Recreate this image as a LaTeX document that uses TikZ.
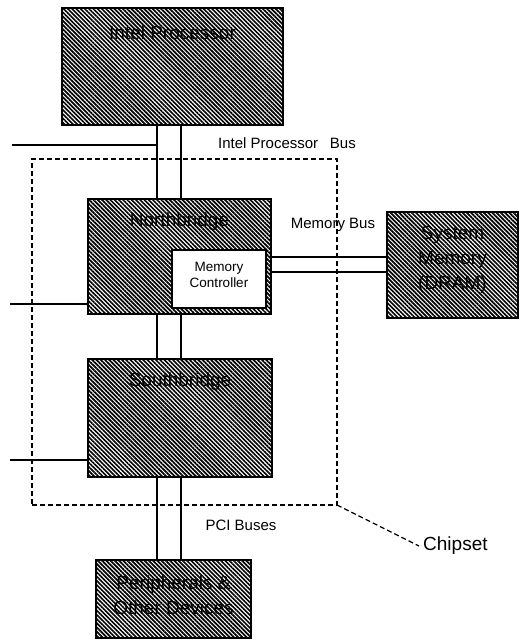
\documentclass[tikz,border=0pt]{standalone}
\usepackage{fontspec}
\setmainfont{Liberation Sans}
\usetikzlibrary{patterns.meta}
\tikzset{
  hatchbox/.style={draw, line width=2pt, inner sep=0pt, outer sep=0pt,
    pattern={Lines[angle=-45,distance=3pt,line width=1.7pt]}, pattern color=black},
  whitebox/.style={draw, line width=1.6pt, fill=white, inner sep=0pt, outer sep=0pt},
  boxtext/.style={font=\fontsize{19}{25}\selectfont, text=black, align=center, inner sep=0pt},
  smalltext/.style={font=\fontsize{13.5}{16}\selectfont, align=center, inner sep=0pt},
  lbl/.style={font=\fontsize{15}{18}\selectfont, inner sep=0pt},
  bus/.style={line width=1.5pt},
  chipline/.style={dashed, line width=1.3pt, dash pattern=on 5pt off 3pt},
}
\begin{document}
\begin{tikzpicture}[x=1pt,y=-1pt]
\useasboundingbox (0,0) rectangle (520,641);
% chipset dashed region
\node[chipline, draw, minimum width=305pt, minimum height=346pt, inner sep=0pt, outer sep=0pt] (cs) at (184.5,332) {};
% boxes
\node[hatchbox, minimum width=221pt, minimum height=117pt] (proc) at (172.5,66.5) {};
\node[hatchbox, minimum width=183pt, minimum height=115pt] (nb) at (179.5,256.5) {};
\node[whitebox, minimum width=94pt, minimum height=58pt] (mc) at (219,279) {};
\node[hatchbox, minimum width=184pt, minimum height=118pt] (sb) at (180,418) {};
\node[hatchbox, minimum width=131pt, minimum height=106pt] (sm) at (452.5,265) {};
\node[hatchbox, minimum width=155pt, minimum height=78pt] (per) at (173.5,599) {};
% box texts
\node[boxtext] (proct) at ([yshift=-25pt]proc.north) {Intel Processor};
\node[boxtext] (nbt) at ([yshift=-23pt]nb.north) {Northbridge};
\node[smalltext] (mct) at ([yshift=4pt]mc.center) {Memory\\Controller};
\node[boxtext] (sbt) at ([yshift=-23pt]sb.north) {Southbridge};
\node[boxtext] (smt) at ([yshift=5pt]sm.center) {System\\Memory\\(DRAM)};
\node[boxtext] (pert) at ([yshift=4pt]per.center) {Peripherals \&\\Other Devices};
% bus line x positions
\coordinate (b1) at (157,0);
\coordinate (b2) at (181,0);
\coordinate (m1) at (0,257);
\coordinate (m2) at (0,272);
% processor bus
\draw[bus] (proc.south -| b1) -- (nb.north -| b1);
\draw[bus] (proc.south -| b2) -- (nb.north -| b2);
% NB - SB
\draw[bus] (nb.south -| b1) -- (sb.north -| b1);
\draw[bus] (nb.south -| b2) -- (sb.north -| b2);
% PCI
\draw[bus] (sb.south -| b1) -- (per.north -| b1);
\draw[bus] (sb.south -| b2) -- (per.north -| b2);
% memory bus
\draw[bus] (nb.east |- m1) -- (sm.west |- m1);
\draw[bus] (nb.east |- m2) -- (sm.west |- m2);
% left stubs
\coordinate (l1) at (12,145);
\coordinate (l2) at (10,304);
\coordinate (l3) at (10,460);
\draw[bus] (l1) -- (l1 -| b1);
\draw[bus] (l2) -- (l2 -| nb.west);
\draw[bus] (l3) -- (l3 -| sb.west);
% labels
\node[lbl] (ipb) at (287,143) {Intel Processor\hspace{0.5em} Bus};
\node[lbl] (mbl) at (333,225) {Memory Bus};
\node[lbl] (pcil) at (241,525) {PCI Buses};
\node[font=\fontsize{19}{22}\selectfont, inner sep=0pt, anchor=west] (chipl) at (423,546) {Chipset};
\draw[chipline] (cs.south east) -- ([xshift=-4pt]chipl.west);
\end{tikzpicture}
\end{document}
